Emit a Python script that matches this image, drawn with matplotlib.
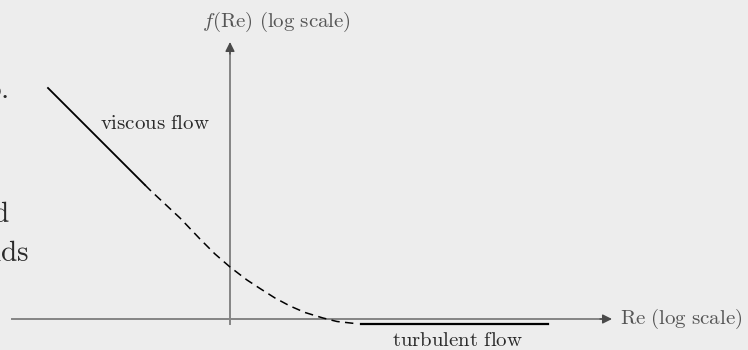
"""Friction factor sketch: viscous and turbulent regimes on log axes"""

import matplotlib

matplotlib.use("Agg")
import matplotlib.pyplot as plt

plt.rcParams["mathtext.fontset"] = "cm"

# sketch curve (origin at the axis crossing)
viscous_x = [-1.82, -0.85]
viscous_y = [2.31, 1.34]
transition_x = [-0.85, -0.80, -0.65, -0.50, -0.30, -0.15, 0.0, 0.17, 0.30,
                0.45, 0.60, 0.75, 0.93, 1.07, 1.25]
transition_y = [1.34, 1.29, 1.15, 1.01, 0.80, 0.65, 0.52, 0.39, 0.305,
                0.21, 0.13, 0.065, 0.01, -0.025, -0.045]
turbulent_x = [1.31, 3.18]
turbulent_y = [-0.045, -0.045]

BG = "#ededed"
AXIS = "#858585"


def main() -> None:
    """draw the sketch"""
    fig = plt.figure(figsize=(7.48, 3.5), dpi=100, facecolor=BG)
    ax = fig.add_axes([0, 0, 1, 1])
    ax.set_facecolor(BG)
    ax.set_xlim(-2.30, 5.18)
    ax.set_ylim(-0.31, 3.19)
    ax.axis("off")

    # axes with arrows
    ax.plot([-2.18, 3.72], [0, 0], color=AXIS, lw=1.4, zorder=1)
    ax.annotate("", xy=(3.82, 0), xytext=(3.70, 0),
                arrowprops=dict(arrowstyle="-|>", color="#4a4a4a", lw=1.0,
                                mutation_scale=14, shrinkA=0, shrinkB=0))
    ax.plot([0, 0], [-0.05, 2.68], color=AXIS, lw=1.4, zorder=1)
    ax.annotate("", xy=(0, 2.77), xytext=(0, 2.65),
                arrowprops=dict(arrowstyle="-|>", color="#4a4a4a", lw=1.0,
                                mutation_scale=14, shrinkA=0, shrinkB=0))

    # curve
    ax.plot(viscous_x, viscous_y, color="black", lw=1.3, zorder=3)
    ax.plot(transition_x, transition_y, color="black", lw=1.1,
            dashes=(5.5, 3.5), zorder=3)
    ax.plot(turbulent_x, turbulent_y, color="black", lw=1.6, zorder=3)

    # labels
    txt = "#2a2a2a"
    ax.text(0.46, 2.97, r"$f(\mathrm{Re})\ (\mathrm{log\ scale})$",
            ha="center", va="center", fontsize=15, color="#555555")
    ax.text(3.90, 0, r"$\mathrm{Re\ (log\ scale)}$",
            ha="left", va="center", fontsize=15, color="#555555")
    ax.text(-1.30, 1.96, r"$\mathrm{viscous\ flow}$",
            ha="left", va="center", fontsize=15, color=txt)
    ax.text(2.27, -0.21, r"$\mathrm{turbulent\ flow}$",
            ha="center", va="center", fontsize=15, color=txt)

    # bits of the surrounding page text, cut by the left edge
    ax.text(-2.22, 2.21, r"$\mathrm{o.}$", ha="right", va="baseline",
            fontsize=21, color=txt)
    ax.text(-2.20, 0.97, r"$\mathrm{nd}$", ha="right", va="baseline",
            fontsize=21, color=txt)
    ax.text(-2.01, 0.58, r"$\mathrm{nds}$", ha="right", va="baseline",
            fontsize=21, color=txt)

    fig.savefig("out.png", dpi=100, facecolor=BG)


if __name__ == "__main__":
    main()
